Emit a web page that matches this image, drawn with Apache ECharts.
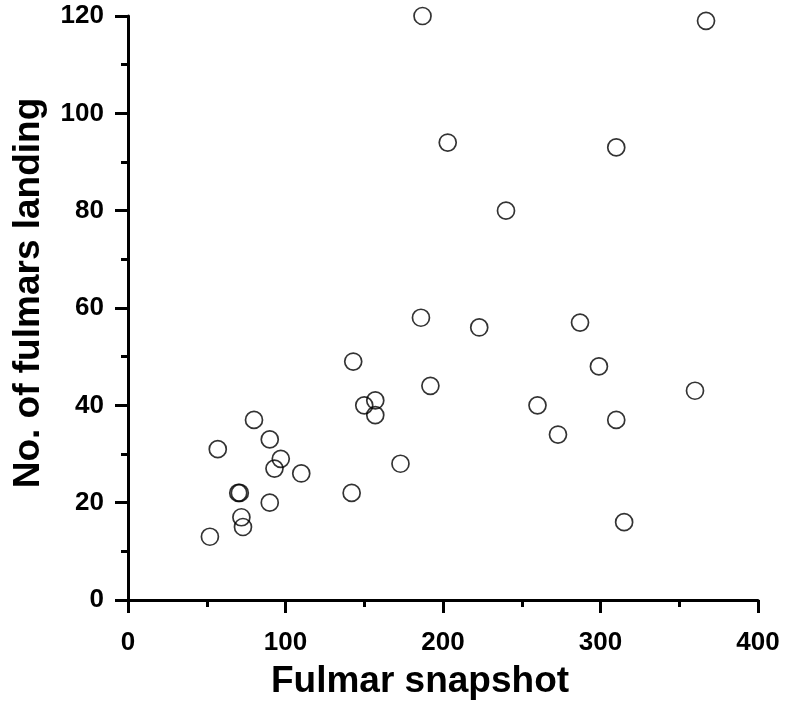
<!DOCTYPE html>
<html>
<head>
<meta charset="utf-8">
<script src="https://cdn.jsdelivr.net/npm/echarts@6/dist/echarts.min.js"></script>
<style>
html,body{margin:0;padding:0;background:#fff;}
#chart{width:786px;height:722px;}
</style>
</head>
<body>
<div id="chart"></div>
<script>
var snapshot = [52, 57, 80, 90, 97, 93, 110, 70, 71, 90, 72, 73, 142, 143, 150, 157, 157, 173, 186, 192, 223, 287, 299, 360, 260, 310, 273, 315, 187, 367, 203, 310, 240];
var landing  = [13, 31, 37, 33, 29, 27, 26, 22, 22, 20, 17, 15, 22, 49, 40, 41, 38, 28, 58, 44, 56, 57, 48, 43, 40, 37, 34, 16, 120, 119, 94, 93, 80];
var xTicks = [0, 100, 200, 300, 400];
var yTicks = [0, 20, 40, 60, 80, 100, 120];
var xTitle = 'Fulmar snapshot';
var yTitle = 'No. of fulmars landing';

var points = snapshot.map(function (v, i) { return [v, landing[i]]; });
var font = '"Liberation Sans", Arial, sans-serif';
var chart = echarts.init(document.getElementById('chart'), null, {renderer: 'canvas'});
chart.setOption({
  animation: false,
  backgroundColor: '#fff',
  grid: {left: 128, right: 28, top: 16, bottom: 122, containLabel: false},
  xAxis: {
    type: 'value', min: xTicks[0], max: xTicks[xTicks.length - 1], interval: 100,
    name: xTitle, nameLocation: 'middle', nameGap: 63,
    nameTextStyle: {fontFamily: font, fontWeight: 'bold', fontSize: 37, color: '#000', padding: [0, 46, 0, 0]},
    axisLine: {show: true, lineStyle: {color: '#000', width: 3}},
    axisTick: {show: true, length: 13, lineStyle: {color: '#000', width: 3}},
    minorTick: {show: true, splitNumber: 2, length: 7, lineStyle: {color: '#000', width: 3}},
    axisLabel: {fontFamily: font, fontWeight: 'bold', fontSize: 26, color: '#000', margin: 30},
    splitLine: {show: false}
  },
  yAxis: {
    type: 'value', min: yTicks[0], max: yTicks[yTicks.length - 1], interval: 20,
    name: yTitle, nameLocation: 'middle', nameGap: 81, nameRotate: 90,
    nameTextStyle: {fontFamily: font, fontWeight: 'bold', fontSize: 37, color: '#000', padding: [0, 0, 0, 30]},
    axisLine: {show: true, lineStyle: {color: '#000', width: 3}},
    axisTick: {show: true, length: 13, lineStyle: {color: '#000', width: 3}},
    minorTick: {show: true, splitNumber: 2, length: 7, lineStyle: {color: '#000', width: 3}},
    axisLabel: {fontFamily: font, fontWeight: 'bold', fontSize: 26, color: '#000', margin: 24},
    splitLine: {show: false}
  },
  series: [{
    type: 'scatter',
    data: points,
    symbol: 'circle',
    symbolSize: 17,
    itemStyle: {color: 'rgba(255,255,255,0)', borderColor: '#000', borderWidth: 1.7}
  }]
});
</script>
</body>
</html>
